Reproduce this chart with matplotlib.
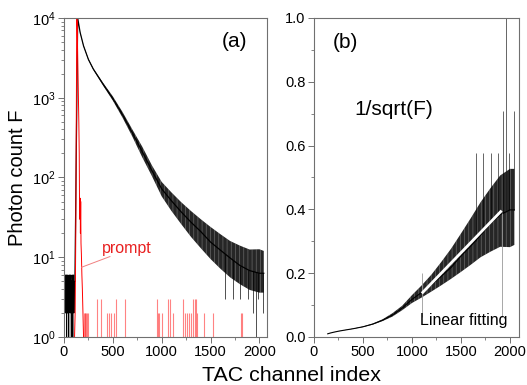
import matplotlib.pyplot as plt
import numpy as np

plt.rcParams['font.family'] = ['Liberation Sans', 'DejaVu Sans']
plt.rcParams['mathtext.fontset'] = 'custom'
plt.rcParams['mathtext.rm'] = 'Liberation Sans'
plt.rcParams['hatch.linewidth'] = 0.5

# decay trace of panel (a): channel and lower / middle / upper edge of the noisy band
decay_ch = [112, 140, 165, 200, 250, 300, 400, 500, 600, 700, 800, 900, 1000,
            1100, 1200, 1300, 1400, 1500, 1600, 1700, 1800, 1900, 2000, 2045]
decay_low = [5, 10000, 6500, 4400, 2960, 2240, 1420, 920, 560, 325, 180, 104, 58,
             38, 26, 18, 13, 9.5, 7.2, 5.6, 4.6, 3.9, 3.6, 3.6]
decay_mid = [5, 10000, 6600, 4470, 3020, 2290, 1480, 975, 610, 362, 212, 122, 72,
             51, 37, 27.5, 21, 15.5, 12.3, 9.8, 7.9, 6.8, 6.3, 6.3]
decay_high = [5, 10000, 6700, 4550, 3080, 2340, 1540, 1040, 660, 400, 245, 142, 88,
              65, 49, 38, 30, 24, 19.5, 16, 14, 12.5, 12.6, 12]

# background counts before the rise
pre_ch = [0, 3, 6, 9, 12, 15, 18, 21, 24, 27, 30, 33, 36, 39, 42, 45, 48, 51, 54,
          57, 60, 63, 66, 69, 72, 75, 78, 81, 84, 87, 90, 93, 96, 99, 102, 105, 108]
pre_val = [3, 5, 2, 4, 6, 2, 5, 3, 6, 1, 4, 5, 2, 6, 3, 5, 1, 4, 6,
           3, 5, 2, 4, 6, 3, 1, 5, 2, 6, 4, 1, 5, 3, 6, 2, 4, 5]

# single-channel dips in the tail
tail_ch = [1650, 1728, 1803, 1880, 1933, 1962, 1990, 2040]
tail_val = [3, 3, 3, 3, 2, 1, 3, 2]

# prompt (instrument response)
prompt_ch = [108, 114, 120, 126, 131, 135, 140, 146, 152, 156, 159, 162, 165, 168,
             171, 174, 178, 183, 188, 194, 200]
prompt_val = [1, 2, 15, 600, 10000, 9000, 3500, 1300, 480, 200, 45, 30, 55, 20,
              50, 15, 11, 6, 4, 2, 1]
stray_ch = [205, 212, 220, 228, 236, 246, 334, 380, 445, 462, 480, 510, 535, 620,
            950, 958, 968, 1000, 1062, 1080, 1120, 1218, 1240, 1262, 1280, 1300,
            1322, 1338, 1350, 1362, 1430, 1525, 1813, 1827]
stray_val = [2, 2, 2, 2, 2, 2, 3, 3, 2, 2, 2, 2, 3, 3,
             3, 2, 2, 2, 3, 3, 2, 3, 2, 2, 2, 2,
             3, 3, 3, 2, 2, 2, 2, 2]

# linear fit on 1/sqrt(F) and its range markers
fit_ch = [1110, 1905]
fit_val = [0.14, 0.393]
mark_ch = [1103, 1916]
mark_top = [0.2, 0.39]

fig = plt.figure(figsize=(5.27, 3.85), dpi=100)
ax_a = fig.add_axes([64 / 527, 1 - 337 / 385, 203 / 527, 319 / 385])
ax_b = fig.add_axes([314 / 527, 1 - 337 / 385, 204.5 / 527, 319 / 385])

ch = np.array(decay_ch)
low = np.array(decay_low)
mid = np.array(decay_mid)
high = np.array(decay_high)
band_style = dict(facecolor=(0, 0, 0, 0.85), edgecolor=(1, 1, 1, 0.3), hatch='||||', lw=0)

# ---- panel (a)
ax_a.plot(pre_ch + [decay_ch[0]], pre_val + [decay_low[0]], color='black', lw=0.7)
ax_a.fill_between(ch, low, high, **band_style)
ax_a.plot(ch, mid, color='black', lw=0.9)
tail_join = np.interp(tail_ch, ch, mid)
ax_a.vlines(tail_ch, tail_val, tail_join, color='black', lw=0.6, alpha=0.8)
ax_a.plot(prompt_ch, prompt_val, color='red', lw=0.7)
ax_a.vlines(stray_ch, 1, stray_val, color='#ff3030', lw=0.8, alpha=0.6)

ax_a.set_yscale('log')
ax_a.set_ylim(1, 1e4)
ax_a.set_xlim(0, 2078)
ax_a.text(0.84, 0.925, '(a)', transform=ax_a.transAxes, ha='center', va='center', fontsize=15)
ax_a.text(392, 13, 'prompt', color='#e82020', fontsize=11.5, va='center')
ax_a.plot([181, 470], [7.5, 10.2], color='#f08080', lw=0.7)

# ---- panel (b)
sel = ch >= 140
ax_b.fill_between(ch[sel], 1 / np.sqrt(high[sel]), 1 / np.sqrt(low[sel]), **band_style)
ax_b.plot(ch[sel], 1 / np.sqrt(mid[sel]), color='black', lw=0.8)
ax_b.vlines(tail_ch, 1 / np.sqrt(tail_join), 1 / np.sqrt(np.array(tail_val, float)),
            color='black', lw=0.6, alpha=0.7)
ax_b.vlines(mark_ch, 0.064, mark_top, color='#999999', lw=0.6)
ax_b.plot(fit_ch, fit_val, color='white', lw=2)
ax_b.set_xlim(0, 2087)
ax_b.set_ylim(0, 1)
ax_b.set_yticks([0, 0.2, 0.4, 0.6, 0.8, 1.0])
ax_b.set_yticks(np.arange(0.1, 1.0, 0.2), minor=True)
ax_b.yaxis.set_major_formatter(plt.FormatStrFormatter('%.1f'))
ax_b.text(0.156, 0.923, '(b)', transform=ax_b.transAxes, ha='center', va='center', fontsize=15)
ax_b.text(0.39, 0.712, '1/sqrt(F)', transform=ax_b.transAxes, ha='center', va='center', fontsize=15)
ax_b.text(0.73, 0.052, 'Linear fitting', transform=ax_b.transAxes, ha='center', va='center', fontsize=11.5)

for ax in (ax_a, ax_b):
    ax.set_xticks([0, 500, 1000, 1500, 2000])
    ax.set_xticks([250, 750, 1250, 1750], minor=True)
    for s in ax.spines.values():
        s.set_color('#707070')
        s.set_linewidth(0.8)
    ax.tick_params(which='major', direction='out', length=4, width=0.7,
                   color='#707070', labelsize=10.5, pad=2)
    ax.tick_params(which='minor', direction='out', length=2.5, width=0.6, color='#707070')

fig.text(18 / 527, 1 - 178 / 385, 'Photon count F', rotation=90, ha='center', va='center', fontsize=14.5)
fig.text(292 / 527, 1 - 381 / 385, 'TAC channel index', ha='center', va='baseline', fontsize=15.4)

fig.savefig('out.png', dpi=100)
